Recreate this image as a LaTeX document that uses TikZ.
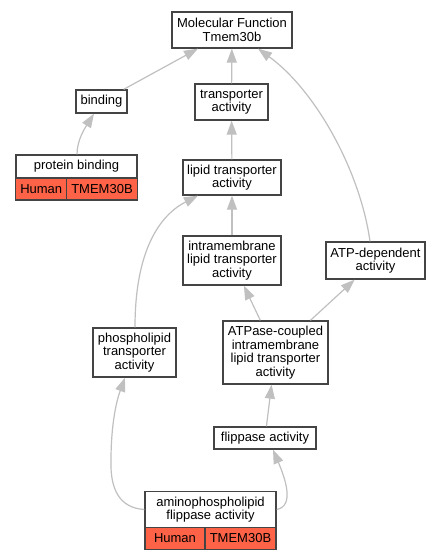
\documentclass[tikz,border=0pt]{standalone}
\usepackage{fontspec}
\setmainfont{Liberation Sans}
\usetikzlibrary{arrows.meta}
\definecolor{boxc}{HTML}{444444}
\definecolor{edgec}{HTML}{C0C0C0}
\definecolor{tomatoc}{HTML}{FF6347}
\begin{document}
\begin{tikzpicture}[x=1pt,y=-1pt,
  box/.style={draw=boxc, line width=1.3pt, fill=white, inner sep=0pt, align=center,
    font=\fontsize{13}{13.5}\selectfont},
  cell/.style={box, fill=tomatoc},
  edge/.style={draw=edgec, line width=1.2pt, -{Triangle[length=14pt,width=10pt]}}]
\useasboundingbox[fill=white] (0,0) rectangle (441,560);

\node[box, minimum width=120pt, minimum height=36pt] (mf) at (232,30) {Molecular Function\\Tmem30b};
\node[box, minimum width=51pt, minimum height=23pt] (bind) at (101.5,101.5) {binding};
\node[box, minimum width=73pt, minimum height=36pt] (trans) at (231.5,102) {transporter\\activity};
\node[box, minimum width=121pt, minimum height=23pt] (pb) at (76.5,166.5) {protein binding};
\node[cell, minimum width=51pt, minimum height=22pt] (pbh) at (41.25,189) {Human};
\node[cell, minimum width=70.5pt, minimum height=22pt] (pbt) at (102,189) {TMEM30B};
\node[box, minimum width=98pt, minimum height=35pt] (lipid) at (232,177.5) {lipid transporter\\activity};
\node[box, minimum width=98pt, minimum height=49pt] (intra) at (232,260.5) {intramembrane\\lipid transporter\\activity};
\node[box, minimum width=99pt, minimum height=37pt] (atp) at (375.5,260.5) {ATP-dependent\\activity};
\node[box, minimum width=83pt, minimum height=49pt] (phos) at (134.5,352.5) {phospholipid\\transporter\\activity};
\node[box, minimum width=105pt, minimum height=63pt] (atpase) at (275.5,352.5) {ATPase-coupled\\intramembrane\\lipid transporter\\activity};
\node[box, minimum width=102pt, minimum height=22pt] (flip) at (265,438) {flippase activity};
\node[box, minimum width=131pt, minimum height=36pt] (amino) at (210.5,509.5) {aminophospholipid\\flippase activity};
\node[cell, minimum width=60pt, minimum height=22pt] (amh) at (175,538.5) {Human};
\node[cell, minimum width=71pt, minimum height=22pt] (amt) at (240.5,538.5) {TMEM30B};

\draw[edge] (bind) -- (mf);
\draw[edge] (trans) -- (mf);
\draw[edge] (atp.north -| 370,0) .. controls (360,170) and (315,90) .. (mf.south -| 258,0);
\draw[edge] (pb.north -| 77,0) .. controls (77,140) and (85,128) .. (bind.south -| 94,0);
\draw[edge] (lipid) -- (trans);
\draw[edge] (intra) -- (lipid);
\draw[edge] (phos.north -| 135,0) .. controls (135,250) and (160,215) .. (lipid.south -| 198,0);
\draw[edge] (atpase) -- (intra);
\draw[edge] (atpase) -- (atp);
\draw[edge] (flip) -- (atpase);
\draw[edge] (amino.west) .. controls (120,508) and (110,490) .. (111,460)
  .. controls (111,430) and (115,405) .. (phos.south -| 125,0);
\draw[edge] (amino.east) .. controls (295,506) and (285,478) .. (flip.south -| 273,0);
\end{tikzpicture}
\end{document}
